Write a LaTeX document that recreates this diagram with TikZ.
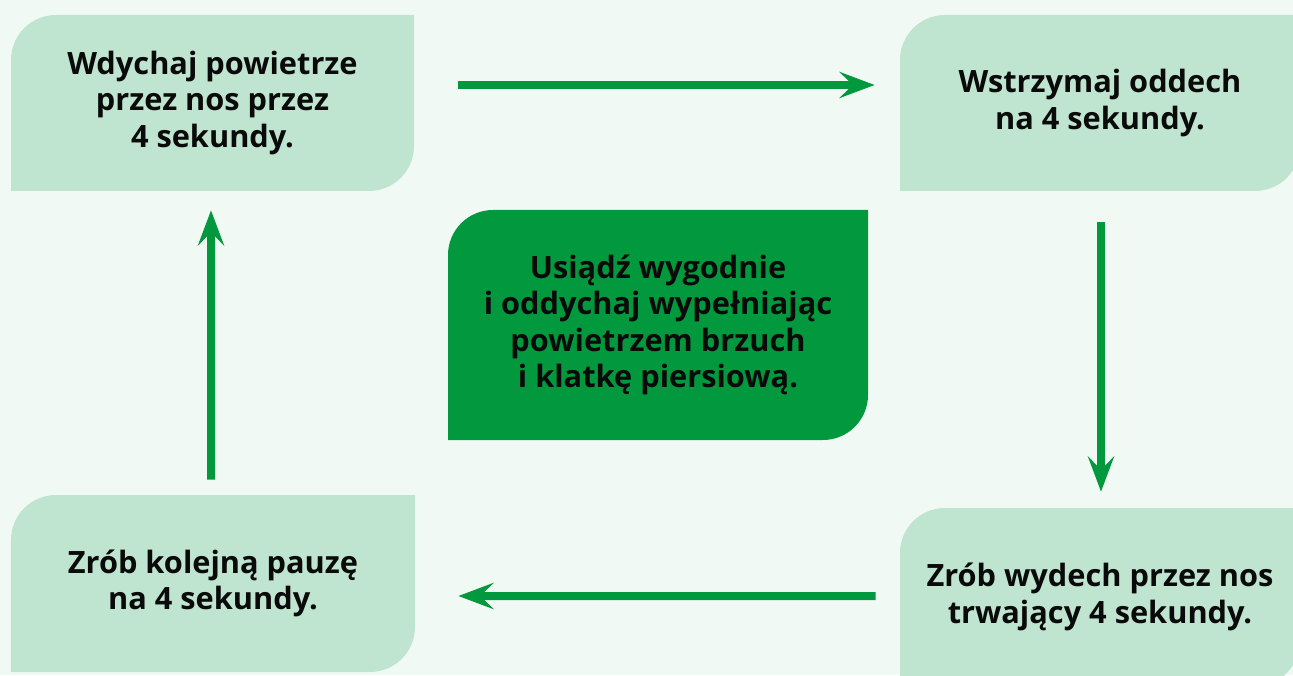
\documentclass[tikz,border=0pt]{standalone}
\usepackage{fontspec}
\setmainfont{Open Sans}
\usepackage{tikz}
\usetikzlibrary{arrows.meta, positioning, calc}
\definecolor{paper}{HTML}{F1F9F4}
\definecolor{mint}{HTML}{BFE5D0}
\definecolor{leafgreen}{HTML}{02993E}
\definecolor{ink}{HTML}{0A0A0A}

\begin{document}
\begin{tikzpicture}[
  leaf/.style={rectangle, inner sep=0pt, align=center, text=ink,
               font=\fontsize{17.5}{20.6}\selectfont\bfseries,
               path picture={
                 \fill[#1] (path picture bounding box.south west)
                   -- ([yshift=-0.9cm]path picture bounding box.north west)
                   arc[start angle=180, end angle=90, radius=0.9cm]
                   -- (path picture bounding box.north east)
                   -- ([yshift=0.9cm]path picture bounding box.south east)
                   arc[start angle=0, end angle=-90, radius=0.9cm]
                   -- cycle;}},
  card/.style={leaf=mint, minimum width=8.06cm, minimum height=3.52cm},
  card2/.style={leaf=leafgreen, minimum width=8.4cm, minimum height=4.6cm},
  arrow2/.style={-{Stealth[length=0.7cm, width=0.52cm, inset=0.26cm]},
                 line width=0.16cm, color=leafgreen}
]
  \fill[paper] (0,0) rectangle (25.86,13.5);
  \useasboundingbox (0,0) rectangle (25.86,13.5);

  \node[card] (inhale) at (4.25,11.44) {Wdychaj powietrze\\przez nos przez\\4 sekundy.};
  \node[card, minimum width=8cm] (hold) at (22,11.44) {Wstrzymaj oddech\\na 4 sekundy.};
  \node[card, minimum width=8cm, minimum height=3.56cm] (exhale) at (22,1.56) {Zrób wydech przez nos\\trwający 4 sekundy.};
  \node[card, minimum width=8.08cm, minimum height=3.54cm] (pause) at (4.26,1.83) {Zrób kolejną pauzę\\na 4 sekundy.};
  \node[card2] (sit) at (13.16,7) {Usiądź wygodnie\\i oddychaj wypełniając\\powietrzem brzuch\\i klatkę piersiową.};

  \draw[arrow2] ([shift={(0.88,0.36)}]inhale.east) -- ([shift={(-0.5,0.36)}]hold.west);
  \draw[arrow2] ([shift={(0.02,-0.62)}]hold.south) -- ([shift={(0.02,0.32)}]exhale.north);
  \draw[arrow2] ([shift={(-0.48,0.02)}]exhale.west) -- ([shift={(0.86,-0.25)}]pause.east);
  \draw[arrow2] ([shift={(-0.04,0.3)}]pause.north) -- ([shift={(-0.03,-0.38)}]inhale.south);
\end{tikzpicture}
\end{document}
